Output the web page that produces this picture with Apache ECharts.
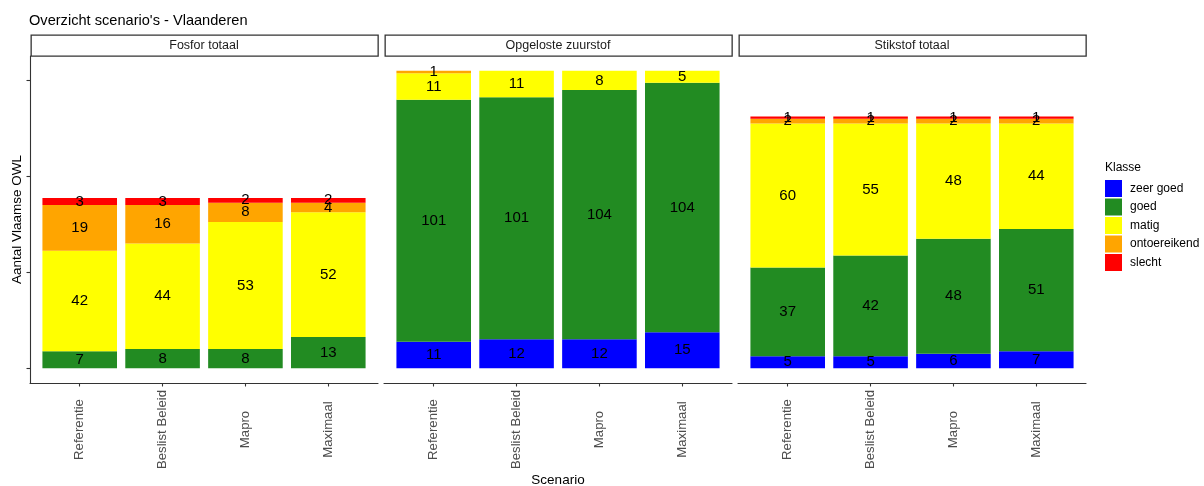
<!DOCTYPE html>
<html>
<head>
<meta charset="utf-8">
<script src="https://cdn.jsdelivr.net/npm/echarts@6/dist/echarts.min.js"></script>
<style>html,body{margin:0;padding:0;background:#fff}#c{width:1204px;height:486px}</style>
</head>
<body>
<div id="c"></div>
<script>
const scenarios = ['Referentie', 'Beslist Beleid', 'Mapro', 'Maximaal'];
const panels = ['Fosfor totaal', 'Opgeloste zuurstof', 'Stikstof totaal'];
const klassen = ['zeer goed', 'goed', 'matig', 'ontoereikend', 'slecht'];
const yTicks = [0, 40, 80, 120];

// Fosfor totaal
const fosforZeerGoed = [0, 0, 0, 0];
const fosforGoed = [7, 8, 8, 13];
const fosforMatig = [42, 44, 53, 52];
const fosforOntoereikend = [19, 16, 8, 4];
const fosforSlecht = [3, 3, 2, 2];
// Opgeloste zuurstof
const zuurstofZeerGoed = [11, 12, 12, 15];
const zuurstofGoed = [101, 101, 104, 104];
const zuurstofMatig = [11, 11, 8, 5];
const zuurstofOntoereikend = [1, 0, 0, 0];
const zuurstofSlecht = [0, 0, 0, 0];
// Stikstof totaal
const stikstofZeerGoed = [5, 5, 6, 7];
const stikstofGoed = [37, 42, 48, 51];
const stikstofMatig = [60, 55, 48, 44];
const stikstofOntoereikend = [2, 2, 2, 2];
const stikstofSlecht = [1, 1, 1, 1];

const panelData = [
  [fosforZeerGoed, fosforGoed, fosforMatig, fosforOntoereikend, fosforSlecht],
  [zuurstofZeerGoed, zuurstofGoed, zuurstofMatig, zuurstofOntoereikend, zuurstofSlecht],
  [stikstofZeerGoed, stikstofGoed, stikstofMatig, stikstofOntoereikend, stikstofSlecht]
];

// styles / layout
const palette = ['#0000FF', '#228B22', '#FFFF00', '#FFA500', '#FF0000'];
const FONT = 'Liberation Sans, Arial, sans-serif';
const panelLeft = [30, 384, 738];
const panelW = 348;
const plotTop = 56;
const plotH = 327;
const band = panelW / 4.2;      // ggplot discrete expansion 0.6 each side
const yMin = -6.2, yMax = 130.2; // ggplot 5% expansion of [0,124]

const grids = [], xAxes = [], yAxes = [], series = [], graphics = [];
panels.forEach((p, pi) => {
  // frame grid (axis lines of the panel)
  const fi = grids.length;
  grids.push({ left: panelLeft[pi], top: plotTop, width: panelW, height: plotH, containLabel: false, outerBoundsMode: 'none' });
  xAxes.push({
    type: 'value', gridIndex: fi, min: 0, max: 1,
    splitLine: { show: false }, axisTick: { show: false }, axisLabel: { show: false },
    axisLine: { show: true, onZero: false, lineStyle: { color: '#333', width: 1.1 } },
    name: pi === 1 ? 'Scenario' : '', nameLocation: 'middle', nameGap: 90,
    nameTextStyle: { color: '#000', fontSize: 13.5, fontFamily: FONT }
  });
  yAxes.push({
    type: 'value', gridIndex: fi, min: yMin, max: yMax,
    splitLine: { show: false }, axisLabel: { show: false },
    axisLine: { show: pi === 0, onZero: false, lineStyle: { color: '#333', width: 1.1 } },
    axisTick: { show: pi === 0, customValues: yTicks, length: 3.5, lineStyle: { color: '#333', width: 1.1 } },
    name: pi === 0 ? 'Aantal Vlaamse OWL' : '', nameLocation: 'middle', nameGap: 6,
    nameTextStyle: { color: '#000', fontSize: 13.5, fontFamily: FONT }
  });
  // data grid (bars)
  const di = grids.length;
  grids.push({ left: panelLeft[pi] + 0.1 * band, top: plotTop, width: 4 * band, height: plotH, containLabel: false, outerBoundsMode: 'none' });
  xAxes.push({
    type: 'category', gridIndex: di, data: scenarios, boundaryGap: true,
    axisLine: { show: false, onZero: false },
    axisTick: { show: true, alignWithLabel: true, interval: 0, length: 3.5, lineStyle: { color: '#333', width: 1.1 } },
    axisLabel: {
      interval: 0, rotate: 90, align: 'center', verticalAlign: 'middle',
      margin: 46.5, color: '#4d4d4d', fontSize: 13.2, fontFamily: FONT
    }
  });
  yAxes.push({ type: 'value', gridIndex: di, min: yMin, max: yMax, show: false });
  klassen.forEach((k, ki) => {
    series.push({
      type: 'bar', name: k, xAxisIndex: di, yAxisIndex: di, stack: 'p' + pi,
      barWidth: '90%',
      itemStyle: { color: palette[ki] },
      label: {
        show: true, position: 'inside', color: '#000', fontSize: 15, fontFamily: FONT,
        textBorderWidth: 0,
        formatter: prm => (prm.value ? String(prm.value) : '')
      },
      emphasis: { disabled: true },
      data: panelData[pi][ki]
    });
  });
  graphics.push({
    type: 'rect', left: panelLeft[pi] + 0.5, top: 34.5,
    shape: { width: panelW - 1, height: 21 },
    style: { fill: '#fff', stroke: '#333', lineWidth: 1.3 }
  });
  graphics.push({
    type: 'text', x: panelLeft[pi] + panelW / 2, y: 45.5,
    style: { text: p, fill: '#1a1a1a', font: '12.5px ' + FONT, textAlign: 'center', textVerticalAlign: 'middle' }
  });
});

const chart = echarts.init(document.getElementById('c'), null, { renderer: 'canvas' });
chart.setOption({
  animation: false,
  backgroundColor: '#fff',
  title: [
    { text: "Overzicht scenario's - Vlaanderen", left: 29, top: 13, padding: 0,
      textStyle: { color: '#000', fontSize: 14.6, fontWeight: 'normal', fontFamily: FONT } },
    { text: 'Klasse', left: 1105, top: 162, padding: 0,
      textStyle: { color: '#000', fontSize: 12, fontWeight: 'normal', fontFamily: FONT } }
  ],
  legend: {
    data: klassen, orient: 'vertical', left: 1105, top: 180, padding: 0,
    icon: 'rect', itemWidth: 17, itemHeight: 17, itemGap: 1.5,
    textStyle: { color: '#000', fontSize: 12, fontFamily: FONT, padding: [0, 0, 0, 3] },
    selectedMode: false
  },
  grid: grids, xAxis: xAxes, yAxis: yAxes, series: series, graphic: graphics
});
</script>
</body>
</html>
